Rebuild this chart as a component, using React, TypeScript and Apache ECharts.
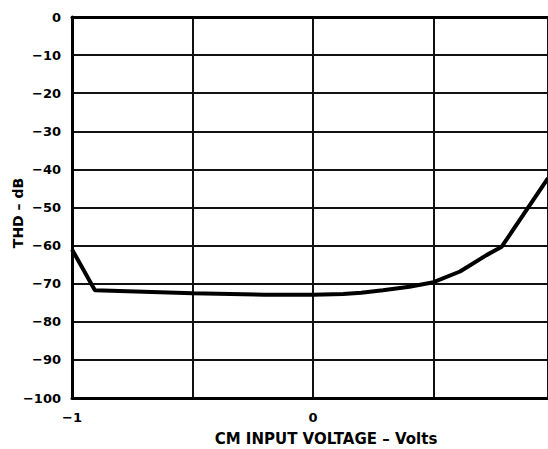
import React, { useEffect, useRef } from "react";
import * as echarts from "echarts";

const voltage = [-1, -0.905, -0.5, -0.2, 0, 0.125, 0.2, 0.29, 0.4, 0.5, 0.61, 0.72, 0.783, 0.975];
const thd = [-61, -71.7, -72.5, -72.9, -72.9, -72.7, -72.4, -71.7, -70.8, -69.6, -66.8, -62.5, -60.3, -42.3];
const xLabels = ["-1", "0"];
const xTitle = "CM INPUT VOLTAGE – Volts";
const yTitle = "THD – dB";

const FONT = "'DejaVu Sans', 'Liberation Sans', Arial, sans-serif";

export default function App() {
  const ref = useRef<HTMLDivElement>(null);
  useEffect(() => {
    if (!ref.current) return;
    const chart = echarts.init(ref.current, undefined, { renderer: "svg" });
    const dash = (v: number) => (v < 0 ? "−" + Math.abs(v) : String(v));
    chart.setOption({
      animation: false,
      backgroundColor: "#fff",
      grid: { left: 72, right: 0, top: 17, bottom: 51, containLabel: false },
      xAxis: [
        {
          type: "value",
          min: -1,
          max: 0.975,
          interval: 0.5,
          axisLine: { show: true, onZero: false, lineStyle: { color: "#000", width: 3 } },
          axisTick: { show: false },
          splitLine: { show: true, lineStyle: { color: "#111", width: 2 } },
          axisLabel: {
            margin: 13,
            color: "#000",
            fontFamily: FONT,
            fontWeight: "bold",
            fontSize: 13,
            showMaxLabel: false,
            formatter: (v: number) => {
              const s = v === -1 ? xLabels[0] : v === 0 ? xLabels[1] : "";
              return s.replace("-", "−");
            },
          },
        },
        {
          type: "value",
          position: "top",
          min: -1,
          max: 0.975,
          axisLine: { show: true, onZero: false, lineStyle: { color: "#000", width: 3 } },
          axisTick: { show: false },
          axisLabel: { show: false },
          splitLine: { show: false },
        },
      ],
      yAxis: {
        type: "value",
        min: -100,
        max: 0,
        interval: 10,
        axisLine: { show: true, onZero: false, lineStyle: { color: "#000", width: 3 } },
        axisTick: { show: false },
        splitLine: { show: true, lineStyle: { color: "#111", width: 2 } },
        axisLabel: {
          margin: 11,
          color: "#000",
          fontFamily: FONT,
          fontWeight: "bold",
          fontSize: 13,
          formatter: dash,
        },
      },
      graphic: [
        {
          type: "text",
          x: 326,
          y: 439,
          style: {
            text: xTitle,
            fill: "#000",
            font: `bold 15px ${FONT}`,
            align: "center",
            verticalAlign: "middle",
          },
        },
        {
          type: "text",
          x: 18,
          y: 213,
          rotation: Math.PI / 2,
          style: {
            text: yTitle,
            fill: "#000",
            font: `bold 14px ${FONT}`,
            align: "center",
            verticalAlign: "middle",
          },
        },
      ],
      series: [
        {
          type: "line",
          data: voltage.map((v, i) => [v, thd[i]]),
          showSymbol: false,
          symbol: "none",
          lineStyle: { color: "#000", width: 4 },
          z: 5,
        },
      ],
    });
    return () => chart.dispose();
  }, []);
  return (
    <div
      ref={ref}
      style={{ position: "fixed", left: 0, top: 0, width: 548, height: 449 }}
    />
  );
}
